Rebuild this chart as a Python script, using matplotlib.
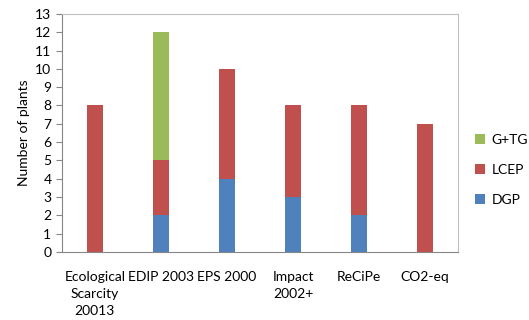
import numpy as np
import matplotlib
matplotlib.use("Agg")
import matplotlib.pyplot as plt

plt.rcParams['font.family'] = ['Lato', 'DejaVu Sans']

categories = ["Ecological\nScarcity\n20013", "EDIP 2003", "EPS 2000", "Impact\n2002+", "ReCiPe", "CO2-eq"]
dgp = [0, 2, 4, 3, 2, 0]
lcep = [8, 3, 6, 5, 6, 7]
gtg = [0, 7, 0, 0, 0, 0]

fig = plt.figure(figsize=(5.29, 3.2), dpi=100)
ax = fig.add_axes([0.117, 0.2125, 0.749, 0.744])

x = np.arange(len(categories))
w = 0.24
dgp = np.array(dgp)
lcep = np.array(lcep)
gtg = np.array(gtg)
b1 = ax.bar(x, dgp, w, color='#4F81BD', label='DGP')
b2 = ax.bar(x, lcep, w, bottom=dgp, color='#C0504D', label='LCEP')
b3 = ax.bar(x, gtg, w, bottom=dgp + lcep, color='#9BBB59', label='G+TG')

ax.set_xlim(-0.5, len(categories) - 0.5)
ax.set_ylim(0, 13)
ax.set_yticks(range(0, 14))
ax.set_xticks(x)
ax.set_xticklabels(categories, fontsize=10, va='top', linespacing=1.5)
ax.tick_params(axis='y', labelsize=10, length=4, color='#868686')
ax.tick_params(axis='x', length=0, pad=14)
ax.set_ylabel("Number of plants", fontsize=10)
for s in ax.spines.values():
    s.set_color('#BFBFBF')
ax.spines['left'].set_color('#868686')
ax.spines['bottom'].set_color('#868686')

fig.legend([b3, b2, b1], ['G+TG', 'LCEP', 'DGP'], loc='center left',
           bbox_to_anchor=(0.898, 0.47), frameon=False, fontsize=10,
           borderpad=0, borderaxespad=0,
           handlelength=0.7, handleheight=0.7, labelspacing=1.3, handletextpad=0.5)

fig.savefig("out.png", dpi=100)
